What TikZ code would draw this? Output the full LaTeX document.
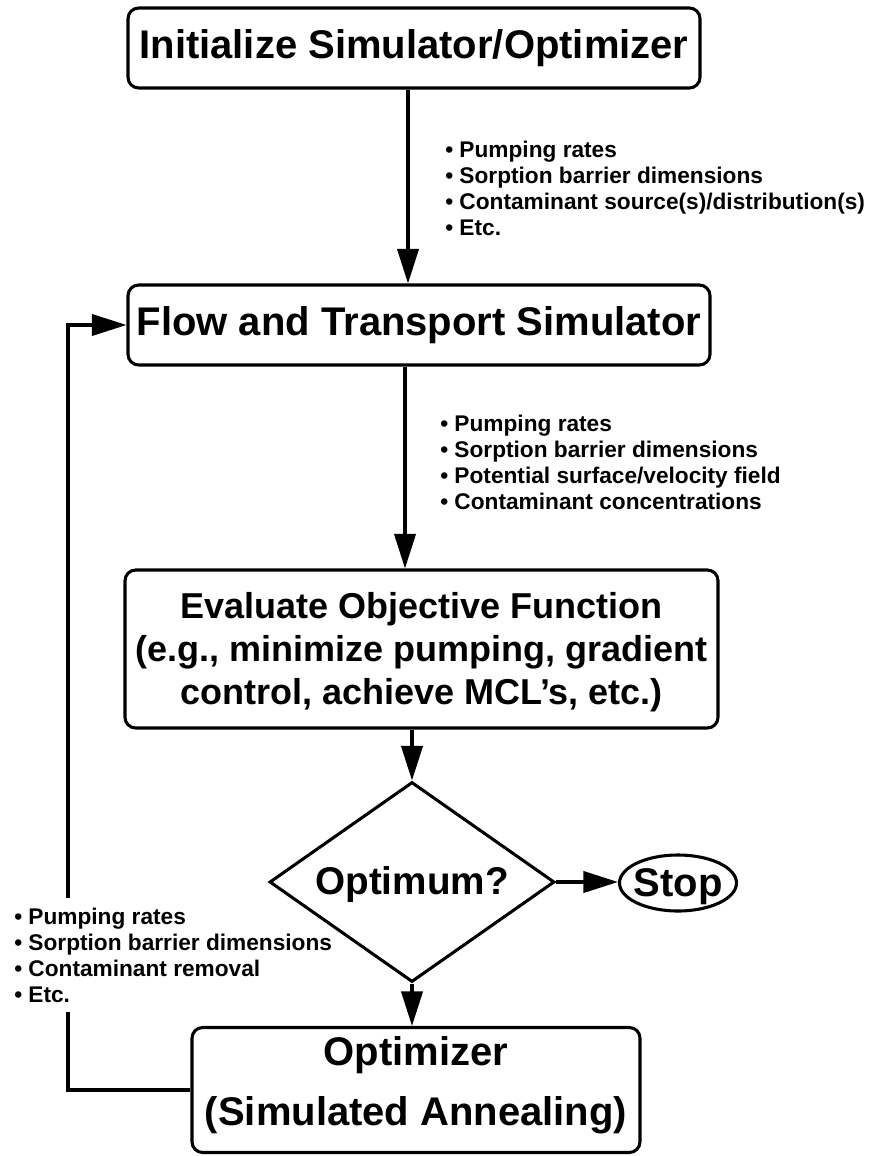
\documentclass[tikz,border=0pt]{standalone}
\usepackage{fontspec}
\setmainfont{Liberation Sans}
\usetikzlibrary{arrows.meta,shapes.geometric,calc}
\begin{document}
\begin{tikzpicture}[x=0.75pt,y=-0.75pt,
  box/.style={draw, line width=2.3pt, rounded corners=8pt, inner sep=0pt, align=center,
    font=\bfseries\fontsize{30}{36}\selectfont},
  conn/.style={line width=2.3pt},
  arr/.style={conn, -{Triangle[length=26pt,width=16pt]}},
  lab/.style={inner sep=0pt, align=left, anchor=west,
    font=\bfseries\fontsize{17}{19.5}\selectfont},
]
\useasboundingbox (0,0) rectangle (872,1156);

% nodes
\node[box, minimum width=429pt, minimum height=60pt] (b1) at (414,48)
  {Initialize Simulator/Optimizer};
\node[box, minimum width=436.5pt, minimum height=60pt] (b2) at (419,325)
  {Flow and Transport Simulator};
\node[box, minimum width=444.75pt, minimum height=118.5pt,
  label={[align=center, yshift=-2.5pt, font=\bfseries\fontsize{27}{32}\selectfont]center:Evaluate Objective Function\\(e.g., minimize pumping, gradient\\control, achieve MCL’s, etc.)}] (b3) at (421.5,649) {};
\node[draw, line width=2.3pt, diamond, inner sep=0pt, minimum width=213.75pt, minimum height=150pt,
  label={[yshift=-2pt, font=\bfseries\fontsize{29}{34}\selectfont]center:Optimum?}] (d) at (412,882) {};
\node[draw, line width=2.3pt, ellipse, inner sep=0pt, minimum width=87.75pt, minimum height=42pt,
  label={[yshift=-3pt, font=\bfseries\fontsize{30}{36}\selectfont]center:Stop}] (stop) at (678,883) {};
\node[box, minimum width=336pt, minimum height=93.75pt,
  label={[align=center, yshift=3.5pt, font=\bfseries\fontsize{30}{45}\selectfont]center:Optimizer\\(Simulated Annealing)}] (b5) at (416,1090) {};

% labels
\node[lab] (l1) at (445,188) {• Pumping rates\\• Sorption barrier dimensions\\• Contaminant source(s)/distribution(s)\\• Etc.};
\node[lab] (l2) at (440,462) {• Pumping rates\\• Sorption barrier dimensions\\• Potential surface/velocity field\\• Contaminant concentrations};
\node[lab] (l3) at (14,955) {• Pumping rates\\• Sorption barrier dimensions\\• Contaminant removal\\• Etc.};

% helper coordinates
\coordinate (a1) at (408,0);
\coordinate (a2) at (405,0);
\coordinate (g1) at (68,898);
\coordinate (g2) at (68,1012);

% connectors
\draw[arr] (b1.south -| a1) -- (b2.north -| a1);
\draw[arr] (b2.south -| a2) -- (b3.north -| a2);
\draw[arr] (b3.south -| d.north) -- (d.north);
\draw[arr] (d.south) -- (b5.north -| d.south);
\draw[arr] (d.east) -- (d.east -| stop.west);
\draw[conn] (b5.west) -- (b5.west -| g2) -- (g2);
\draw[arr] (g1) -- (b2.west -| g1) -- (b2.west);
\end{tikzpicture}
\end{document}
